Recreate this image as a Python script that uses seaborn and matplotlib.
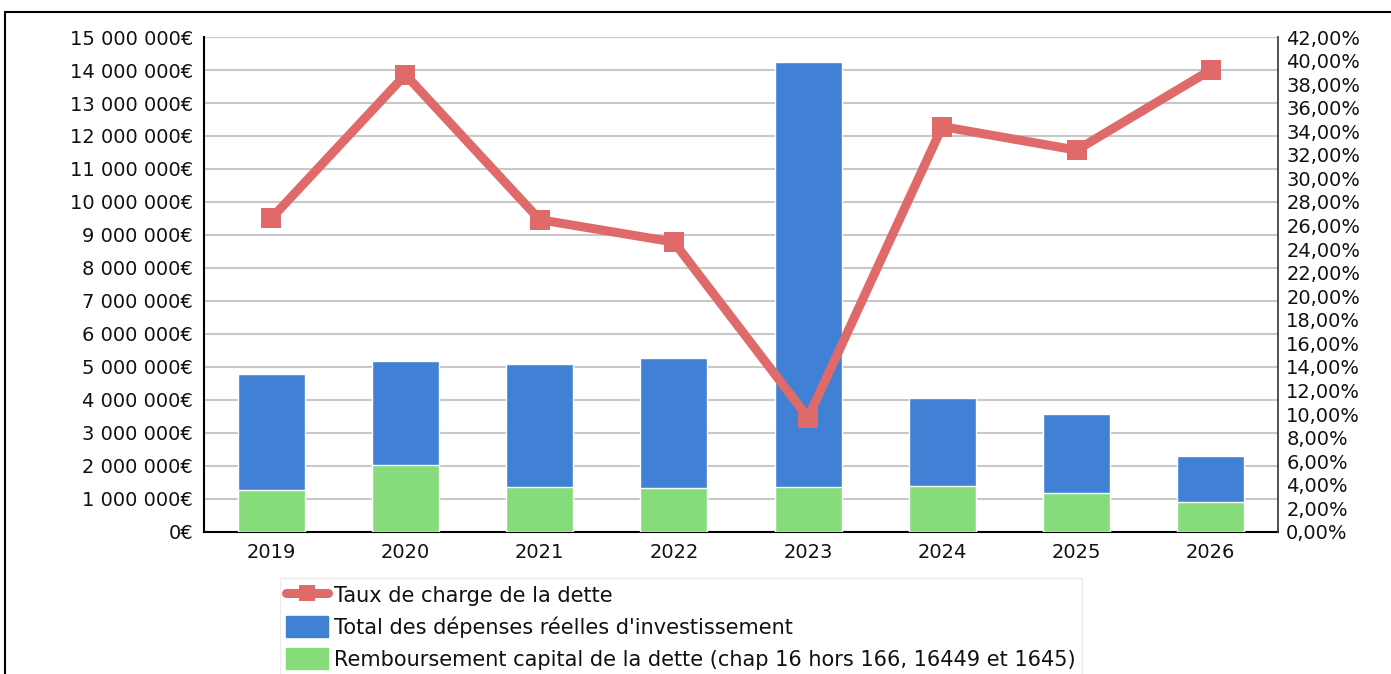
import numpy as np
import pandas as pd
import matplotlib
matplotlib.use('Agg')
import matplotlib.pyplot as plt
from matplotlib.ticker import FuncFormatter, MultipleLocator, FixedLocator
from matplotlib.patches import Patch
from matplotlib.lines import Line2D
import seaborn as sns

# data
years = ['2019', '2020', '2021', '2022', '2023', '2024', '2025', '2026']
total_invest = [4790000, 5180000, 5090000, 5270000, 14240000, 4060000, 3580000, 2300000]
rembourse = [1270000, 2030000, 1360000, 1330000, 1370000, 1390000, 1180000, 910000]
taux_charge = [26.6, 38.8, 26.5, 24.6, 9.7, 34.4, 32.4, 39.2]

lbl_taux = 'Taux de charge de la dette'
lbl_total = "Total des dépenses réelles d'investissement"
lbl_remb = 'Remboursement capital de la dette (chap 16 hors 166, 16449 et 1645)'

blue = '#4081d6'
green = '#86dc7a'
red = '#e06a6a'

df = pd.DataFrame({'annee': years, 'total': total_invest, 'remb': rembourse, 'taux': taux_charge})

sns.set_style('white')
plt.rcParams['font.family'] = ['DejaVu Sans']
plt.rcParams['text.color'] = '#111111'

fig = plt.figure(figsize=(13.91, 6.74), dpi=100)
ax = fig.add_axes([0.1467, 0.2107, 0.772, 0.7344])

# bars overlap (green in front of blue)
sns.barplot(data=df, x='annee', y='total', color=blue, width=0.5, saturation=1, ax=ax, zorder=2)
sns.barplot(data=df, x='annee', y='remb', color=green, width=0.5, saturation=1, ax=ax, zorder=3)

ax.set_ylim(0, 15000000)
ax.set_xlim(-0.5, len(years) - 0.5)
ax.yaxis.set_major_locator(MultipleLocator(1000000))
ax.yaxis.set_major_formatter(FuncFormatter(lambda v, p: '{:,.0f}€'.format(v).replace(',', ' ')))
ax.grid(axis='y', color='#c8c8c8', lw=1.5, zorder=0)
ax.set_axisbelow(True)
ax.set_xlabel('')
ax.set_ylabel('')
ax.tick_params(axis='y', length=0, labelsize=14, pad=8, labelcolor='#111111')
ax.tick_params(axis='x', which='major', length=0, labelsize=14, pad=8, labelcolor='#111111')
ax.xaxis.set_minor_locator(FixedLocator(np.arange(-0.5, len(years), 1)))
ax.tick_params(axis='x', which='minor', length=9, width=1.2, color='#b0b0b0', direction='out')
ax.spines['top'].set_visible(False)
ax.spines['right'].set_visible(False)
for s in ['left', 'bottom']:
    ax.spines[s].set_color('black')
    ax.spines[s].set_linewidth(1.5)

ax2 = ax.twinx()
sns.lineplot(data=df, x='annee', y='taux', color=red, lw=6.5, marker='s', markersize=15,
             markeredgewidth=0, ax=ax2, zorder=5, sort=False)
ax2.set_ylim(0, 42)
ax2.set_xlim(-0.5, len(years) - 0.5)
ax2.yaxis.set_major_locator(MultipleLocator(2))
ax2.yaxis.set_major_formatter(FuncFormatter(lambda v, p: '{:.2f}%'.format(v).replace('.', ',')))
ax2.tick_params(axis='y', length=0, labelsize=14, pad=6, labelcolor='#111111')
ax2.set_ylabel('')
ax2.grid(False)
for s in ['top', 'left', 'bottom']:
    ax2.spines[s].set_visible(False)
ax2.spines['right'].set_color('#333333')
ax2.spines['right'].set_linewidth(1.2)
if ax2.get_legend():
    ax2.get_legend().remove()

handles = [
    Line2D([], [], color=red, lw=6.5, marker='s', markersize=11, markeredgewidth=0),
    Patch(facecolor=blue, edgecolor=blue),
    Patch(facecolor=green, edgecolor=green),
]
leg = fig.legend(handles, [lbl_taux, lbl_total, lbl_remb], loc='upper left',
                 bbox_to_anchor=(0.201, 0.143), frameon=True, fancybox=False,
                 fontsize=15, handlelength=2.0, handleheight=1.2, handletextpad=0.3,
                 labelspacing=0.5, borderpad=0.3, borderaxespad=0)
leg.get_frame().set_edgecolor('#e8e8e8')
leg.get_frame().set_linewidth(1)

# outer frame (top and left lines)
fig.add_artist(Line2D([0.0036, 1.0], [0.982, 0.982], color='black', lw=1.5, transform=fig.transFigure))
fig.add_artist(Line2D([0.0036, 0.0036], [0.0, 0.982], color='black', lw=1.5, transform=fig.transFigure))

fig.savefig('out.png', dpi=100)
